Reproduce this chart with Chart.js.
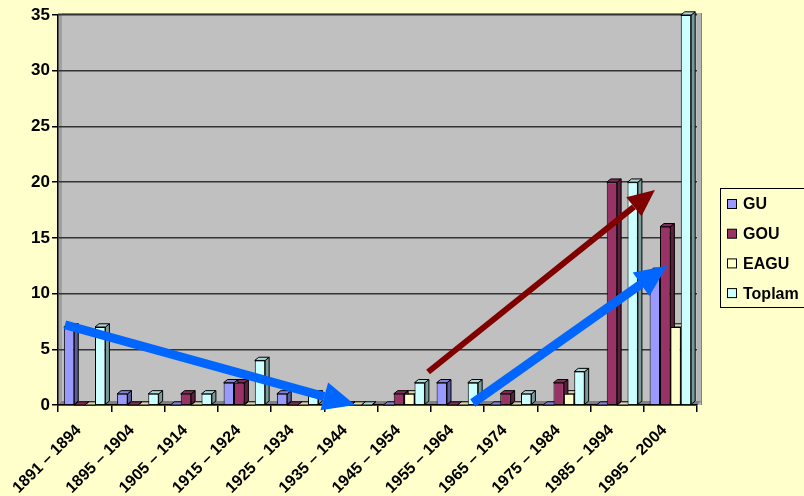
<!DOCTYPE html>
<html>
<head>
<meta charset="utf-8">
<script src="https://cdn.jsdelivr.net/npm/chart.js@4/dist/chart.umd.min.js"></script>
<style>
  html, body { margin: 0; padding: 0; background: #FFFFCC; }
  #wrap { width: 804px; height: 496px; }
</style>
</head>
<body>
<div id="wrap"><canvas id="c" width="804" height="496"></canvas></div>
<script>
// data
var periods = ["1891 – 1894", "1895 – 1904", "1905 – 1914", "1915 – 1924", "1925 – 1934", "1935 – 1944",
               "1945 – 1954", "1955 – 1964", "1965 – 1974", "1975 – 1984", "1985 – 1994", "1995 – 2004"];
var guVals     = [7, 1, 0, 2, 1, 0, 0, 2, 0, 0, 0, 12];
var gouVals    = [0, 0, 1, 2, 0, 0, 1, 0, 1, 2, 20, 16];
var eaguVals   = [0, 0, 0, 0, 0, 0, 1, 0, 0, 1, 0, 7];
var toplamVals = [7, 1, 1, 4, 1, 0, 2, 2, 1, 3, 20, 35];
var seriesNames = ["GU", "GOU", "EAGU", "Toplam"];
var seriesColors = ["#9999FF", "#993366", "#FFFFCC", "#CCFFFF"];

// arrows drawn over the chart: [x, y] in category index / value units
var arrows = [
  { from: [-0.37, 7.2], to: [5.08, 0.0], color: "#0066FF", width: 9, head: 32 },
  { from: [6.45, 2.96], to: [10.71, 19.3], color: "#800000", width: 6, head: 27 },
  { from: [7.29, 0.18], to: [10.94, 12.5], color: "#0066FF", width: 9, head: 32 }
];

function shade(hex, f) {
  var r = parseInt(hex.substr(1, 2), 16), g = parseInt(hex.substr(3, 2), 16), b = parseInt(hex.substr(5, 2), 16);
  return "rgb(" + Math.round(r * f) + "," + Math.round(g * f) + "," + Math.round(b * f) + ")";
}

var DEPTH = 4;
var FONT = "Arial, 'Liberation Sans', sans-serif";

var excel3d = {
  id: "excel3d",
  beforeDraw: function (chart) {
    var ctx = chart.ctx, a = chart.chartArea;
    ctx.save();
    ctx.fillStyle = "#FFFFCC";
    ctx.fillRect(0, 0, chart.width, chart.height);
    // back wall
    ctx.fillStyle = "#C0C0C0";
    ctx.fillRect(a.left, a.top - 2, a.right - a.left + DEPTH, a.bottom - a.top + 2);
    ctx.strokeStyle = "#808080";
    ctx.lineWidth = 1;
    ctx.strokeRect(a.left + 0.5, a.top - 1.5, a.right - a.left + DEPTH, a.bottom - a.top + 1);
    // left side of wall
    ctx.fillStyle = "#A0A0A0";
    ctx.fillRect(a.left, a.top - 2, DEPTH, a.bottom - a.top + 2);
    // right side of wall
    ctx.fillStyle = "#B4B4B4";
    ctx.fillRect(a.right, a.top - 2, DEPTH, a.bottom - a.top + 2);
    // floor
    ctx.fillStyle = "#808080";
    ctx.beginPath();
    ctx.moveTo(a.left, a.bottom);
    ctx.lineTo(a.right, a.bottom);
    ctx.lineTo(a.right + DEPTH, a.bottom - DEPTH);
    ctx.lineTo(a.left + DEPTH, a.bottom - DEPTH);
    ctx.closePath();
    ctx.fill();
    ctx.restore();
  },
  beforeDatasetsDraw: function (chart) {
    var ctx = chart.ctx;
    var dy = DEPTH * 0.8;
    ctx.save();
    ctx.lineWidth = 1;
    ctx.strokeStyle = "#000";
    for (var d = chart.data.datasets.length - 1; d >= 0; d--) {
      var meta = chart.getDatasetMeta(d);
      var col = seriesColors[d];
      meta.data.forEach(function (el) {
        var l = el.x - el.width / 2, r = el.x + el.width / 2, t = el.y, b = el.base;
        // side
        ctx.fillStyle = shade(col, 0.6);
        ctx.beginPath();
        ctx.moveTo(r, t);
        ctx.lineTo(r + DEPTH, t - dy);
        ctx.lineTo(r + DEPTH, b - dy);
        ctx.lineTo(r, b);
        ctx.closePath();
        ctx.fill();
        ctx.stroke();
        // top
        ctx.fillStyle = shade(col, 0.85);
        ctx.beginPath();
        ctx.moveTo(l, t);
        ctx.lineTo(l + DEPTH, t - dy);
        ctx.lineTo(r + DEPTH, t - dy);
        ctx.lineTo(r, t);
        ctx.closePath();
        ctx.fill();
        ctx.stroke();
      });
    }
    ctx.restore();
  },
  afterDraw: function (chart) {
    var ctx = chart.ctx, xs = chart.scales.x, ys = chart.scales.y;
    ctx.save();
    // arrows
    arrows.forEach(function (ar) {
      var x0 = xs.getPixelForValue(ar.from[0]), y0 = ys.getPixelForValue(ar.from[1]);
      var x1 = xs.getPixelForValue(ar.to[0]), y1 = ys.getPixelForValue(ar.to[1]);
      var ang = Math.atan2(y1 - y0, x1 - x0);
      var hx = x1 - Math.cos(ang) * ar.head, hy = y1 - Math.sin(ang) * ar.head;
      ctx.strokeStyle = ar.color;
      ctx.lineWidth = ar.width;
      ctx.lineCap = "butt";
      ctx.beginPath();
      ctx.moveTo(x0, y0);
      ctx.lineTo(hx, hy);
      ctx.stroke();
      var hw = ar.head * 0.45;
      ctx.fillStyle = ar.color;
      ctx.beginPath();
      ctx.moveTo(x1, y1);
      ctx.lineTo(hx + Math.sin(ang) * hw, hy - Math.cos(ang) * hw);
      ctx.lineTo(hx - Math.sin(ang) * hw, hy + Math.cos(ang) * hw);
      ctx.closePath();
      ctx.fill();
    });
    // legend box
    var lx = 720, ly = 188, lw = 90, lh = 119;
    ctx.fillStyle = "#FFFFCC";
    ctx.fillRect(lx, ly, lw, lh);
    ctx.strokeStyle = "#000";
    ctx.lineWidth = 1;
    ctx.strokeRect(lx + 0.5, ly + 0.5, lw, lh);
    ctx.font = "bold 16px " + FONT;
    ctx.textBaseline = "middle";
    seriesNames.forEach(function (name, i) {
      var cy = 204 + i * 29.7;
      ctx.fillStyle = seriesColors[i];
      ctx.fillRect(727.5, cy - 4.5, 9, 9);
      ctx.strokeRect(727.5, cy - 4.5, 9, 9);
      ctx.fillStyle = "#000";
      ctx.fillText(name, 743, cy + 1);
    });
    ctx.restore();
  }
};

var datasets = [guVals, gouVals, eaguVals, toplamVals].map(function (vals, i) {
  return {
    label: seriesNames[i],
    data: vals,
    backgroundColor: seriesColors[i],
    borderColor: "#000",
    borderWidth: 1,
    categoryPercentage: 0.78,
    barPercentage: 1.0
  };
});

new Chart(document.getElementById("c"), {
  type: "bar",
  data: { labels: periods, datasets: datasets },
  plugins: [excel3d],
  options: {
    responsive: false,
    animation: false,
    layout: { padding: { top: 15, right: 107, left: 0, bottom: 0 } },
    plugins: { legend: { display: false }, tooltip: { enabled: false } },
    scales: {
      x: {
        afterFit: function (s) { s.height = 91; },
        grid: { drawOnChartArea: false, drawTicks: true, tickLength: 7, tickColor: "#000", lineWidth: 1.5 },
        border: { color: "#000", width: 1.5 },
        ticks: {
          color: "#000",
          minRotation: 45, maxRotation: 45,
          padding: 9,
          labelOffset: -6,
          font: { family: FONT, size: 16, weight: "bold" }
        }
      },
      y: {
        min: 0, max: 35,
        afterFit: function (s) { s.width = 58; },
        grid: { color: "#333333", lineWidth: 1.5, drawTicks: true, tickLength: 6, tickColor: "#000" },
        border: { color: "#000", width: 1.5 },
        ticks: {
          stepSize: 5,
          color: "#000",
          padding: 2,
          font: { family: FONT, size: 17, weight: "bold" }
        }
      }
    }
  }
});
</script>
</body>
</html>
